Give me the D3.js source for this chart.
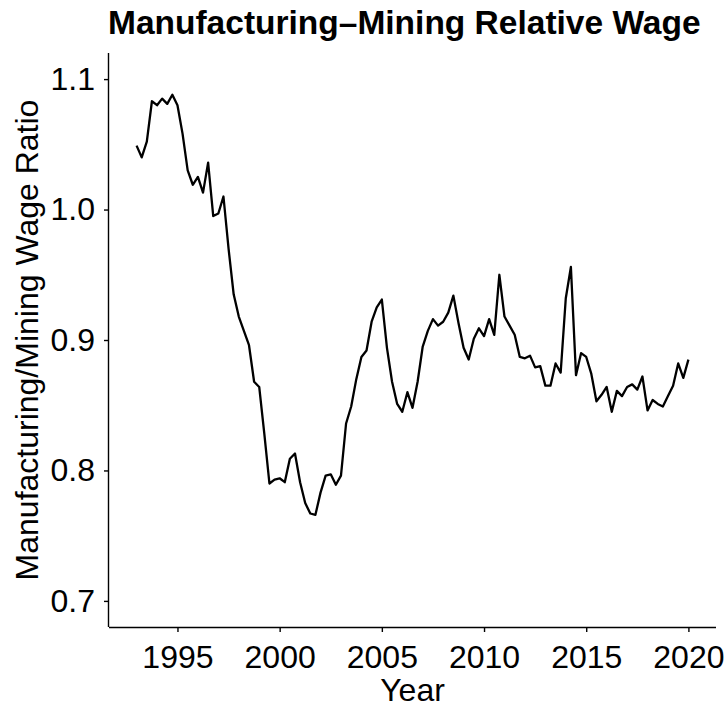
<!DOCTYPE html>
<html>
<head>
<meta charset="utf-8">
<script src="https://cdn.jsdelivr.net/npm/d3@7"></script>
<style>
  html, body { margin: 0; padding: 0; background: #fff; }
  svg text { font-family: "Liberation Sans", Arial, Helvetica, sans-serif; fill: #000; }
</style>
</head>
<body>
<svg id="chart" width="725" height="708"></svg>
<script>
// ---- data (quarterly, 1993 Q1 .. 2020 Q1) ----
const years = [1993,1994,1995,1996,1997,1998,1999,2000,2001,2002,2003,2004,2005,2006,
               2007,2008,2009,2010,2011,2012,2013,2014,2015,2016,2017,2018,2019,2020];
const quarterNames = ["Q1","Q2","Q3","Q4"];
const ratio = [
  1.049, 1.040, 1.052, 1.083,   // 1993
  1.080, 1.085, 1.081, 1.088,   // 1994
  1.080, 1.058, 1.030, 1.019,   // 1995
  1.025, 1.013, 1.036, 0.995,   // 1996
  0.997, 1.010, 0.970, 0.935,   // 1997
  0.918, 0.907, 0.896, 0.868,   // 1998
  0.864, 0.828, 0.790, 0.793,   // 1999
  0.794, 0.791, 0.809, 0.813,   // 2000
  0.791, 0.775, 0.767, 0.766,   // 2001
  0.783, 0.796, 0.797, 0.789,   // 2002
  0.796, 0.836, 0.849, 0.870,   // 2003
  0.887, 0.892, 0.914, 0.925,   // 2004
  0.931, 0.894, 0.868, 0.851,   // 2005
  0.845, 0.860, 0.848, 0.868,   // 2006
  0.895, 0.907, 0.916, 0.911,   // 2007
  0.914, 0.921, 0.934, 0.913,   // 2008
  0.894, 0.885, 0.901, 0.909,   // 2009
  0.903, 0.916, 0.904, 0.950,   // 2010
  0.918, 0.911, 0.904, 0.887,   // 2011
  0.886, 0.888, 0.879, 0.880,   // 2012
  0.865, 0.865, 0.882, 0.875,   // 2013
  0.932, 0.956, 0.873, 0.890,   // 2014
  0.887, 0.874, 0.853, 0.858,   // 2015
  0.864, 0.845, 0.861, 0.857,   // 2016
  0.864, 0.866, 0.862, 0.872,   // 2017
  0.846, 0.854, 0.851, 0.849,   // 2018
  0.857, 0.865, 0.882, 0.871,   // 2019
  0.885                         // 2020
];
const xTicks = [1995, 2000, 2005, 2010, 2015, 2020];
const yTicks = [0.7, 0.8, 0.9, 1.0, 1.1];
const titleText = "Manufacturing\u2013Mining Relative Wage";
const xTitle = "Year";
const yTitle = "Manufacturing/Mining Wage Ratio";

// ---- build table ----
const data = ratio.map((v, i) => ({
  year: years[Math.floor(i / 4)],
  q: quarterNames[i % 4],
  t: years[Math.floor(i / 4)] + (i % 4) / 4,
  v: v
}));

// ---- layout ----
const svg = d3.select("#chart");
const panel = { left: 109, right: 716, top: 53, bottom: 627 };

const tMin = d3.min(data, d => d.t), tMax = d3.max(data, d => d.t);
const tPad = (tMax - tMin) * 0.05;
const x = d3.scaleLinear().domain([tMin - tPad, tMax + tPad]).range([panel.left, panel.right]);
const yLo = 0.7, yHi = 1.1, yPad = (yHi - yLo) * 0.05;
const y = d3.scaleLinear().domain([yLo - yPad, yHi + yPad]).range([panel.bottom, panel.top]);

const FS = 32;

// line
const line = d3.line().x(d => x(d.t)).y(d => y(d.v));
svg.append("path")
  .datum(data)
  .attr("d", line)
  .attr("fill", "none")
  .attr("stroke", "#000")
  .attr("stroke-width", 2.3)
  .attr("stroke-linejoin", "round");

// x axis
const xAxis = d3.axisBottom(x).tickValues(xTicks).tickFormat(d3.format("d"))
  .tickSize(5).tickPadding(13).tickSizeOuter(0);
const gx = svg.append("g").attr("transform", `translate(0,${panel.bottom})`).call(xAxis);
gx.select(".domain").attr("stroke", "#000").attr("stroke-width", 1.4)
  .attr("d", `M${panel.left},0.5H${panel.right}`);
gx.selectAll(".tick line").attr("stroke", "#000").attr("stroke-width", 1.4);
gx.selectAll(".tick text").attr("font-size", FS).attr("font-family", "Liberation Sans, Arial, sans-serif").attr("fill", "#000");

// y axis
const yAxis = d3.axisLeft(y).tickValues(yTicks).tickFormat(d3.format(".1f"))
  .tickSize(5).tickPadding(9).tickSizeOuter(0);
const gy = svg.append("g").attr("transform", `translate(${panel.left},0)`).call(yAxis);
gy.select(".domain").attr("stroke", "#000").attr("stroke-width", 1.4)
  .attr("d", `M-0.5,${panel.top}V${panel.bottom}`);
gy.selectAll(".tick line").attr("stroke", "#000").attr("stroke-width", 1.4);
gy.selectAll(".tick text").attr("font-size", FS).attr("font-family", "Liberation Sans, Arial, sans-serif").attr("fill", "#000");

// titles
svg.append("text")
  .attr("x", panel.left - 1).attr("y", 34)
  .attr("font-size", 33.5).attr("font-weight", "bold")
  .text(titleText);

svg.append("text")
  .attr("x", (panel.left + panel.right) / 2).attr("y", 701)
  .attr("text-anchor", "middle")
  .attr("font-size", FS)
  .text(xTitle);

svg.append("text")
  .attr("transform", `translate(38,${(panel.top + panel.bottom) / 2}) rotate(-90)`)
  .attr("text-anchor", "middle")
  .attr("font-size", FS)
  .text(yTitle);
</script>
</body>
</html>
